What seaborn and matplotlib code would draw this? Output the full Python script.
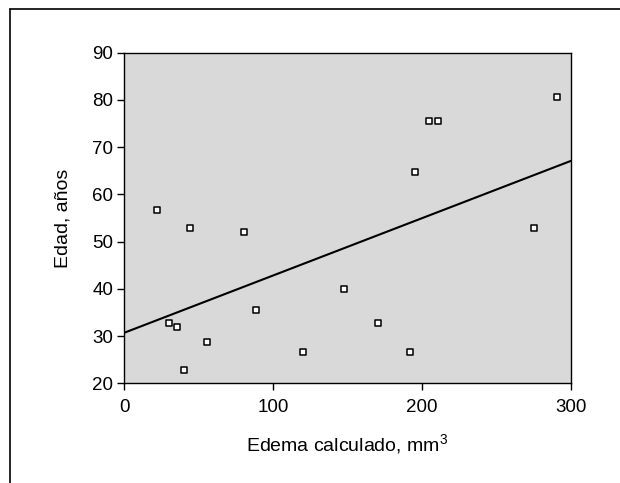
import numpy as np
import pandas as pd
import matplotlib
matplotlib.use("Agg")
import matplotlib.pyplot as plt
from matplotlib.lines import Line2D
import seaborn as sns

# values
edema = [22.3, 43.9, 80.3, 30.3, 35.6, 39.9, 55.6, 88.6, 120.2, 147.6,
         170.5, 192.3, 195.2, 204.5, 210.6, 275.0, 290.7]
edad = [56.8, 52.8, 52.0, 32.8, 31.9, 22.8, 28.8, 35.6, 26.7, 39.9,
        32.8, 26.7, 64.8, 75.6, 75.6, 52.8, 80.7]
x_ticks = [0, 100, 200, 300]
y_ticks = [20, 30, 40, 50, 60, 70, 80, 90]

df = pd.DataFrame({"edema": edema, "edad": edad})

sns.set_style("ticks")
plt.rcParams["font.family"] = ["Liberation Sans", "DejaVu Sans"]
plt.rcParams["text.color"] = "black"
plt.rcParams["axes.labelcolor"] = "black"

fig = plt.figure(figsize=(6.2, 4.83), dpi=100)
ax = fig.add_axes([0.2005, 0.2064, 0.72, 0.6845])
ax.set_facecolor("#d9d9d9")

# set limits first so the regression line spans the whole axis
ax.set_xlim(0, 300)
ax.set_ylim(20, 90)

sns.regplot(data=df, x="edema", y="edad", ax=ax, ci=None, truncate=False,
            marker="s",
            scatter_kws={"s": 20, "facecolor": "white", "edgecolor": "black",
                         "linewidths": 1.1, "alpha": 1, "zorder": 3},
            line_kws={"color": "black", "linewidth": 1.5})

ax.set_xlim(0, 300)
ax.set_ylim(20, 90)
ax.set_xticks(x_ticks)
ax.set_yticks(y_ticks)
ax.tick_params(direction="out", length=5, width=1, color="black",
               labelsize=13.5, labelcolor="black", pad=3)
ax.tick_params(axis="x", pad=6)
for sp in ax.spines.values():
    sp.set_visible(True)
    sp.set_color("black")
    sp.set_linewidth(1)

ax.set_xlabel(r"Edema calculado, mm$^{\mathregular{3}}$", fontsize=14, labelpad=12)
ax.set_ylabel("Edad, años", fontsize=14, labelpad=15)

# outer frame (top and left only, as in the source image)
fig.add_artist(Line2D([10 / 620, 1.0], [1 - 9.3 / 483, 1 - 9.3 / 483],
                      transform=fig.transFigure, color="black", lw=1.2))
fig.add_artist(Line2D([10 / 620, 10 / 620], [1 - 9.3 / 483, 0.0],
                      transform=fig.transFigure, color="black", lw=1.2))

fig.savefig("out.png", dpi=100)
